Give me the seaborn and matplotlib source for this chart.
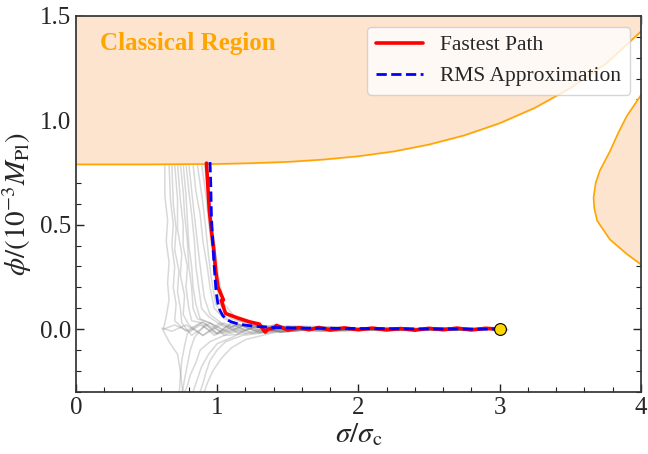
import numpy as np
import pandas as pd
import matplotlib
matplotlib.use("Agg")
import matplotlib.pyplot as plt
import seaborn as sns

# classical region boundaries
top_sigma = [0.0, 0.25, 0.5, 0.75, 1.0, 1.25, 1.5, 1.75, 2.0, 2.25, 2.5, 2.75, 3.0, 3.25, 3.5, 3.75, 4.0]
top_phi = [0.789, 0.789, 0.789, 0.790, 0.791, 0.795, 0.801, 0.812, 0.828, 0.851, 0.884, 0.928, 0.986, 1.060, 1.154, 1.270, 1.425]
right_phi = [0.27, 0.31, 0.36, 0.43, 0.52, 0.58, 0.63, 0.70, 0.76, 0.85, 0.94, 1.02, 1.12, 1.17]
right_sigma = [4.05, 4.00, 3.90, 3.78, 3.69, 3.67, 3.665, 3.68, 3.71, 3.78, 3.84, 3.90, 4.00, 4.05]

# fastest path
fast_sigma = [3.00, 2.90, 2.80, 2.70, 2.60, 2.50, 2.40, 2.30, 2.20, 2.10, 2.00, 1.90, 1.80, 1.72, 1.65,
              1.58, 1.50, 1.45, 1.42, 1.40, 1.36, 1.34, 1.32, 1.30, 1.23, 1.14, 1.06, 1.03, 1.045, 1.03,
              1.007, 0.99, 0.977, 0.96, 0.945, 0.935, 0.925]
fast_phi = [0.000, 0.004, -0.004, 0.005, -0.003, 0.004, -0.005, 0.003, -0.004, 0.005, -0.003, 0.006, -0.004,
            0.008, -0.003, 0.007, -0.004, 0.010, 0.018, 0.004, 0.000, -0.014, 0.004, 0.024, 0.035, 0.055,
            0.075, 0.105, 0.140, 0.170, 0.200, 0.280, 0.380, 0.470, 0.570, 0.680, 0.795]

# RMS approximation
rms_sigma = [0.95, 0.955, 0.96, 0.968, 0.977, 0.985, 0.993, 1.005, 1.02, 1.04, 1.07, 1.10, 1.14, 1.20,
             1.28, 1.40, 1.60, 2.0, 2.5, 3.0]
rms_phi = [0.80, 0.70, 0.54, 0.43, 0.33, 0.25, 0.18, 0.125, 0.09, 0.065, 0.045, 0.035, 0.027, 0.019,
           0.013, 0.008, 0.005, 0.003, 0.001, 0.0]

# stochastic trajectories (grey)
gray_paths = [
    [(3.0, 0), (3.05, 0.004), (2.6, 0.006), (2.2, -0.005), (1.8, 0.01), (1.45, -0.015), (1.3, 0.02), (1.2, -0.01), (1.1, 0.03), (1.0, -0.02), (0.9, 0.035), (0.8, -0.01), (0.7, 0.02), (0.62, 0.0), (0.64, 0.06), (0.66, 0.14), (0.65, 0.22), (0.66, 0.32), (0.64, 0.42), (0.65, 0.52), (0.63, 0.64), (0.63, 0.79)],
    [(3.0, 0), (2.5, -0.006), (2.1, 0.008), (1.7, -0.01), (1.4, 0.02), (1.25, -0.02), (1.1, 0.025), (0.98, -0.03), (0.88, 0.03), (0.78, -0.01), (0.70, 0.04), (0.71, 0.12), (0.69, 0.2), (0.70, 0.3), (0.68, 0.4), (0.69, 0.5), (0.67, 0.62), (0.66, 0.79)],
    [(3.0, 0), (3.06, -0.003), (2.7, 0.004), (2.3, -0.007), (1.9, 0.009), (1.55, 0.015), (1.35, -0.02), (1.2, 0.02), (1.05, -0.03), (0.95, 0.03), (0.82, -0.03), (0.75, 0.03), (0.74, 0.1), (0.72, 0.18), (0.73, 0.28), (0.70, 0.38), (0.71, 0.48), (0.69, 0.6), (0.68, 0.79)],
    [(3.0, 0), (2.55, 0.005), (2.15, -0.006), (1.75, 0.008), (1.45, -0.015), (1.3, 0.02), (1.15, -0.02), (1.02, 0.03), (0.9, -0.03), (0.8, 0.02), (0.76, 0.07), (0.77, 0.16), (0.74, 0.26), (0.75, 0.36), (0.72, 0.48), (0.72, 0.62), (0.70, 0.79)],
    [(3.0, 0), (2.65, -0.004), (2.25, 0.006), (1.85, -0.009), (1.5, 0.015), (1.3, -0.02), (1.15, 0.025), (1.0, -0.02), (0.9, 0.03), (0.82, 0.04), (0.80, 0.1), (0.78, 0.2), (0.79, 0.3), (0.76, 0.4), (0.76, 0.5), (0.74, 0.62), (0.72, 0.79)],
    [(3.0, 0), (3.04, 0.003), (2.6, -0.005), (2.2, 0.007), (1.8, -0.008), (1.5, 0.015), (1.3, -0.015), (1.15, 0.025), (1.05, -0.01), (0.95, 0.03), (0.86, 0.05), (0.83, 0.1), (0.82, 0.2), (0.80, 0.3), (0.79, 0.42), (0.77, 0.55), (0.76, 0.66), (0.74, 0.79)],
    [(3.0, 0), (2.5, 0.006), (2.1, -0.004), (1.7, 0.01), (1.45, -0.015), (1.25, 0.02), (1.1, -0.02), (0.98, 0.02), (0.88, 0.05), (0.85, 0.12), (0.83, 0.2), (0.82, 0.3), (0.80, 0.4), (0.79, 0.52), (0.78, 0.64), (0.76, 0.79)],
    [(3.0, 0), (2.7, -0.005), (2.3, 0.005), (1.9, -0.007), (1.55, 0.012), (1.35, -0.018), (1.2, 0.02), (1.05, 0.01), (0.94, 0.06), (0.89, 0.1), (0.87, 0.2), (0.85, 0.3), (0.84, 0.42), (0.82, 0.55), (0.80, 0.66), (0.78, 0.79)],
    [(3.0, 0), (2.6, 0.004), (2.2, -0.006), (1.8, 0.008), (1.5, -0.012), (1.3, 0.018), (1.15, -0.015), (1.03, 0.03), (0.95, 0.07), (0.91, 0.15), (0.89, 0.25), (0.87, 0.36), (0.85, 0.48), (0.83, 0.6), (0.80, 0.79)],
    [(3.0, 0), (3.05, -0.002), (2.55, -0.005), (2.15, 0.006), (1.75, -0.009), (1.45, 0.015), (1.3, -0.012), (1.15, 0.02), (1.05, 0.05), (0.98, 0.1), (0.95, 0.2), (0.93, 0.3), (0.90, 0.42), (0.88, 0.55), (0.85, 0.66), (0.83, 0.79)],
    [(3.0, 0), (2.65, 0.005), (2.25, -0.005), (1.85, 0.007), (1.5, -0.011), (1.3, 0.016), (1.15, 0.02), (1.05, 0.06), (0.99, 0.12), (0.96, 0.24), (0.94, 0.35), (0.92, 0.48), (0.90, 0.6), (0.86, 0.79)],
    [(3.0, 0), (2.5, -0.004), (2.1, 0.006), (1.7, -0.008), (1.45, 0.012), (1.25, 0.02), (1.1, 0.05), (1.02, 0.12), (0.99, 0.25), (0.96, 0.4), (0.94, 0.52), (0.92, 0.65), (0.89, 0.79)],
    [(3.0, 0), (2.7, 0.003), (2.3, -0.005), (1.9, 0.006), (1.55, -0.008), (1.3, 0.02), (1.15, 0.04), (1.05, 0.12), (1.01, 0.25), (0.98, 0.42), (0.95, 0.6), (0.91, 0.79)],
    [(3.0, 0), (2.6, -0.005), (2.2, 0.004), (1.8, -0.008), (1.5, 0.012), (1.3, -0.015), (1.15, -0.025), (1.05, -0.03), (0.95, -0.06), (0.88, -0.1), (0.85, -0.16), (0.81, -0.22), (0.79, -0.27), (0.76, -0.32)],
    [(3.0, 0), (3.05, 0.002), (2.55, 0.005), (2.15, -0.006), (1.75, 0.008), (1.45, -0.012), (1.25, 0.015), (1.12, -0.035), (1.0, -0.07), (0.94, -0.12), (0.89, -0.18), (0.86, -0.24), (0.82, -0.32)],
    [(3.0, 0), (2.65, -0.004), (2.25, 0.005), (1.85, -0.007), (1.5, 0.01), (1.3, -0.02), (1.18, -0.03), (1.06, -0.06), (1.0, -0.1), (0.95, -0.15), (0.92, -0.21), (0.90, -0.26), (0.87, -0.32)],
    [(3.0, 0), (2.5, 0.004), (2.1, -0.006), (1.7, 0.009), (1.4, -0.014), (1.2, 0.02), (1.05, -0.02), (0.92, 0.025), (0.84, -0.04), (0.81, -0.1), (0.79, -0.17), (0.77, -0.24), (0.75, -0.32)],
    [(3.0, 0), (2.7, -0.003), (2.3, 0.006), (1.9, -0.008), (1.6, 0.012), (1.35, -0.025), (1.2, -0.05), (1.1, -0.09), (1.03, -0.14), (0.97, -0.2), (0.93, -0.26), (0.90, -0.32)],
    [(3.0, 0), (2.6, 0.005), (2.2, -0.004), (1.8, 0.007), (1.45, -0.012), (1.2, 0.02), (1.0, -0.025), (0.88, 0.02), (0.79, -0.02), (0.77, -0.08), (0.75, -0.15), (0.74, -0.23), (0.73, -0.32)],
    [(3.0, 0), (2.55, -0.004), (2.15, 0.005), (1.75, -0.01), (1.4, 0.018), (1.2, -0.02), (1.05, 0.03), (0.9, -0.03), (0.78, 0.02), (0.68, -0.01), (0.61, 0.005), (0.66, -0.06), (0.72, -0.12), (0.74, -0.2), (0.76, -0.32)],
]

start_point = (3.0, 0.0)

sns.set_theme(style="ticks")
plt.rcParams["font.family"] = ["Liberation Serif", "DejaVu Serif"]
plt.rcParams["mathtext.fontset"] = "stix"

fig, ax = plt.subplots(figsize=(6.48, 4.54), dpi=100)
fig.subplots_adjust(left=0.117, right=0.989, top=0.965, bottom=0.137)

# grey trajectories
rows = []
for i, p in enumerate(gray_paths):
    for j, (s, f) in enumerate(p):
        rows.append({"path": i, "step": j, "sigma": s, "phi": f})
df_gray = pd.DataFrame(rows)
sns.lineplot(data=df_gray, x="sigma", y="phi", units="path", estimator=None, sort=False,
             color="gray", alpha=0.3, lw=1.1, ax=ax)

# classical regions
ax.fill_between(top_sigma, top_phi, 2.0, color="#fde4cf", zorder=3)
ax.plot(top_sigma, top_phi, color="orange", lw=1.2, zorder=3)
ax.fill_betweenx(right_phi, right_sigma, 4.5, color="#fde4cf", zorder=3)
ax.plot(right_sigma, right_phi, color="orange", lw=1.2, zorder=3)

sns.lineplot(x=fast_sigma, y=fast_phi, sort=False, color="red", lw=2.6, ax=ax,
             label="Fastest Path", zorder=4)
sns.lineplot(x=rms_sigma, y=rms_phi, sort=False, color="blue", lw=2, ls="--", ax=ax,
             label="RMS Approximation", zorder=5)
ax.plot(*start_point, "o", ms=8.5, mfc="gold", mec="black", mew=0.8, zorder=6)

ax.text(0.17, 1.37, "Classical Region", color="orange", fontweight="bold",
        fontsize=18, va="center", zorder=6)

ax.set_xlim(0, 4)
ax.set_ylim(-0.3, 1.5)
ax.set_xticks([0, 1, 2, 3, 4])
ax.set_yticks([0.0, 0.5, 1.0, 1.5])
ax.set_yticklabels(["0.0", "0.5", "1.0", "1.5"])
ax.minorticks_on()
ax.xaxis.set_minor_locator(matplotlib.ticker.AutoMinorLocator(5))
ax.yaxis.set_minor_locator(matplotlib.ticker.AutoMinorLocator(5))
ax.tick_params(which="both", direction="in", top=True, right=True, labelsize=18, color="#222222")
ax.tick_params(which="major", length=6, width=1)
ax.tick_params(which="minor", length=3.5, width=0.8)
for sp in ax.spines.values():
    sp.set_color("#333333")
    sp.set_zorder(7)

ax.set_xlabel(r"$\sigma/\sigma_{\rm c}$", fontsize=21, labelpad=2)
ax.set_ylabel(r"$\phi/(10^{-3}M_{\rm Pl})$", fontsize=21, labelpad=4)

leg = ax.legend(loc="upper right", fontsize=15.5, framealpha=0.8, handlelength=2.2)
leg.set_zorder(8)

fig.savefig("out.png", dpi=100)
